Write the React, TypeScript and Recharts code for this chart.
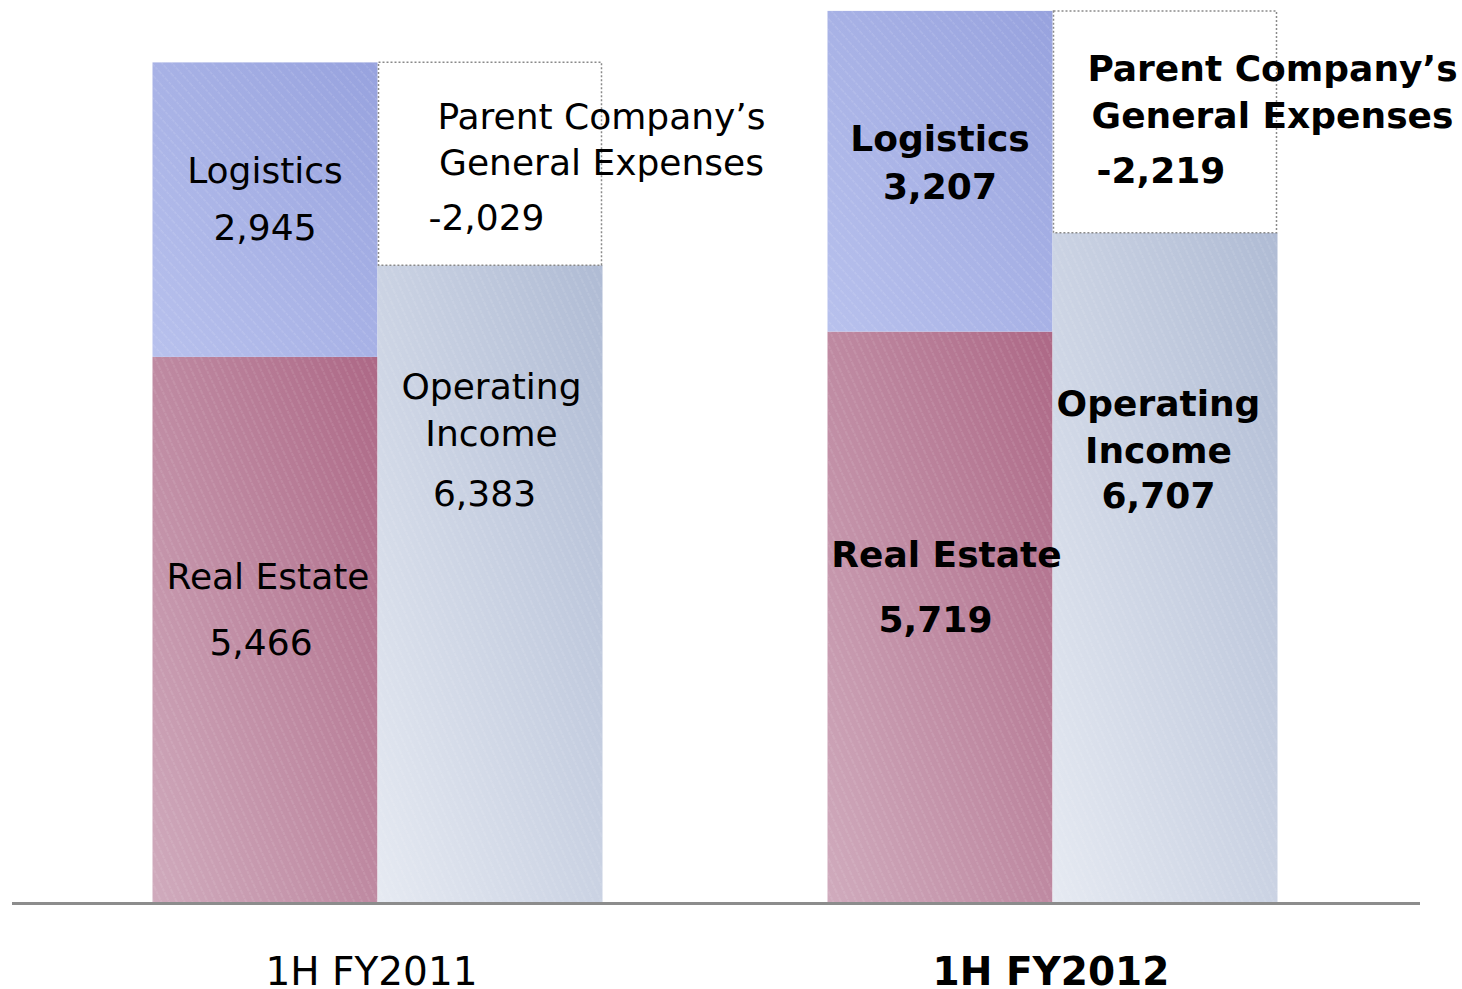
import React from 'react';
import { BarChart, Bar, XAxis, YAxis, LabelList } from 'recharts';

// ---- data ----
const categories = ['1H FY2011', '1H FY2012'];
const boldCategory = [false, true];
const realEstate = [5466, 5719];
const logistics = [2945, 3207];
const operatingIncome = [6383, 6707];
const generalExpenses = [-2029, -2219];

const seriesNames = {
  realEstate: ['Real Estate'],
  logistics: ['Logistics'],
  operatingIncome: ['Operating', 'Income'],
  generalExpenses: ['Parent Company\u2019s', 'General Expenses'],
};

const data = categories.map((c, i) => ({
  category: c,
  realEstate: realEstate[i],
  logistics: logistics[i],
  operatingIncome: operatingIncome[i],
  generalExpenses: Math.abs(generalExpenses[i]),
  generalExpensesRaw: generalExpenses[i],
}));

const rawValues: Record<string, number[]> = {
  realEstate,
  logistics,
  operatingIncome,
  generalExpenses,
};

// ---- label layout (offsets relative to bar) ----
type Off = [number, number];
const labelLayout: Record<string, { anchor: 'top' | 'bottom'; offs: Off[][] }> = {
  realEstate: {
    anchor: 'bottom',
    offs: [
      [[3, -315], [-4, -249]],
      [[6.5, -337], [-4.5, -272]],
    ],
  },
  logistics: {
    anchor: 'top',
    offs: [
      [[0, 121], [0, 178]],
      [[0, 140], [0, 188]],
    ],
  },
  operatingIncome: {
    anchor: 'top',
    offs: [
      [[1.5, 134], [1.5, 181], [-5.5, 241]],
      [[-6.5, 183], [-6.5, 230], [-6.5, 275]],
    ],
  },
  generalExpenses: {
    anchor: 'top',
    offs: [
      [[111.5, 67], [111.5, 113], [-3.5, 168]],
      [[107.5, 70], [107.5, 117], [-4, 172]],
    ],
  },
};

const FONT = '"DejaVu Sans", Verdana, sans-serif';
const fmt = (v: number) => v.toLocaleString('en-US');

const makeLabel = (key: string) => (props: any) => {
  const { x, y, width, height, index } = props;
  const layout = labelLayout[key];
  const offs = layout.offs[index];
  const texts = [...(seriesNames as any)[key], fmt(rawValues[key][index])];
  const cx = Number(x) + Number(width) / 2;
  const base = layout.anchor === 'top' ? Number(y) : Number(y) + Number(height);
  return (
    <g>
      {texts.map((t: string, k: number) => (
        <text
          key={k}
          x={cx + offs[k][0]}
          y={base + offs[k][1]}
          textAnchor="middle"
          fontFamily={FONT}
          fontSize={36}
          fontWeight={boldCategory[index] ? 'bold' : 'normal'}
          fill="#000"
        >
          {t}
        </text>
      ))}
    </g>
  );
};

const hatchShape = (gradId: string, patId: string) => (props: any) => {
  const { x, y, width, height } = props;
  return (
    <g>
      <rect x={x} y={y} width={width} height={height} fill={`url(#${gradId})`} />
      <rect x={x} y={y} width={width} height={height} fill={`url(#${patId})`} />
    </g>
  );
};

const expenseShape = (props: any) => {
  const { x, y, width, height } = props;
  return (
    <rect
      x={x + 1}
      y={y}
      width={width - 2}
      height={height}
      fill="#fff"
      stroke="#8a8a8a"
      strokeWidth={1.5}
      strokeDasharray="2 2"
    />
  );
};

const CategoryTick = (props: any) => {
  const { x, y, payload, index } = props;
  const bold = boldCategory[index];
  return (
    <text
      x={x + (bold ? -1 : -5.5)}
      y={y + 73}
      textAnchor="middle"
      fontFamily={FONT}
      fontSize={39}
      fontWeight={bold ? 'bold' : 'normal'}
      fill="#000"
    >
      {payload.value}
    </text>
  );
};

export default function App() {
  return (
    <div style={{ position: 'absolute', left: 0, top: 0, width: 1462, height: 989, background: '#fff' }}>
      <BarChart
        width={1462}
        height={989}
        data={data}
        margin={{ top: 3.5, right: 42, left: 12, bottom: 0 }}
        barGap={0}
        barSize={225}
      >
        <defs>
          <linearGradient id="gRE" x1="0" y1="1" x2="1" y2="0">
            <stop offset="0%" stopColor="#d0abbd" />
            <stop offset="100%" stopColor="#ad6886" />
          </linearGradient>
          <linearGradient id="gLog" x1="0" y1="1" x2="1" y2="0">
            <stop offset="0%" stopColor="#b8c1ed" />
            <stop offset="100%" stopColor="#97a2de" />
          </linearGradient>
          <linearGradient id="gOI" x1="0" y1="1" x2="1" y2="0">
            <stop offset="0%" stopColor="#e6eaf2" />
            <stop offset="100%" stopColor="#afbbd4" />
          </linearGradient>
          <pattern id="hSteep" patternUnits="userSpaceOnUse" width="7" height="10" patternTransform="rotate(-25)">
            <line x1="3" y1="0" x2="3" y2="10" stroke="#ffffff" strokeOpacity={0.22} strokeWidth={0.8} strokeDasharray="3 1" />
          </pattern>
          <pattern id="h45" patternUnits="userSpaceOnUse" width="7.5" height="10" patternTransform="rotate(-42)">
            <line x1="3" y1="0" x2="3" y2="10" stroke="#ffffff" strokeOpacity={0.22} strokeWidth={0.8} strokeDasharray="3 1" />
          </pattern>
        </defs>
        <XAxis
          dataKey="category"
          height={85.5}
          padding={{ left: 27.5, right: 30.5 }}
          axisLine={{ stroke: '#8c8c8c', strokeWidth: 3 }}
          tickLine={false}
          tick={<CategoryTick />}
          interval={0}
        />
        <YAxis hide domain={[0, 9000]} />
        <Bar dataKey="realEstate" stackId="a" isAnimationActive={false} shape={hatchShape('gRE', 'hSteep')}>
          <LabelList dataKey="realEstate" content={makeLabel('realEstate')} />
        </Bar>
        <Bar dataKey="logistics" stackId="a" isAnimationActive={false} shape={hatchShape('gLog', 'h45')}>
          <LabelList dataKey="logistics" content={makeLabel('logistics')} />
        </Bar>
        <Bar dataKey="operatingIncome" stackId="b" isAnimationActive={false} shape={hatchShape('gOI', 'hSteep')}>
          <LabelList dataKey="operatingIncome" content={makeLabel('operatingIncome')} />
        </Bar>
        <Bar dataKey="generalExpenses" stackId="b" isAnimationActive={false} shape={expenseShape}>
          <LabelList dataKey="generalExpenses" content={makeLabel('generalExpenses')} />
        </Bar>
      </BarChart>
    </div>
  );
}
